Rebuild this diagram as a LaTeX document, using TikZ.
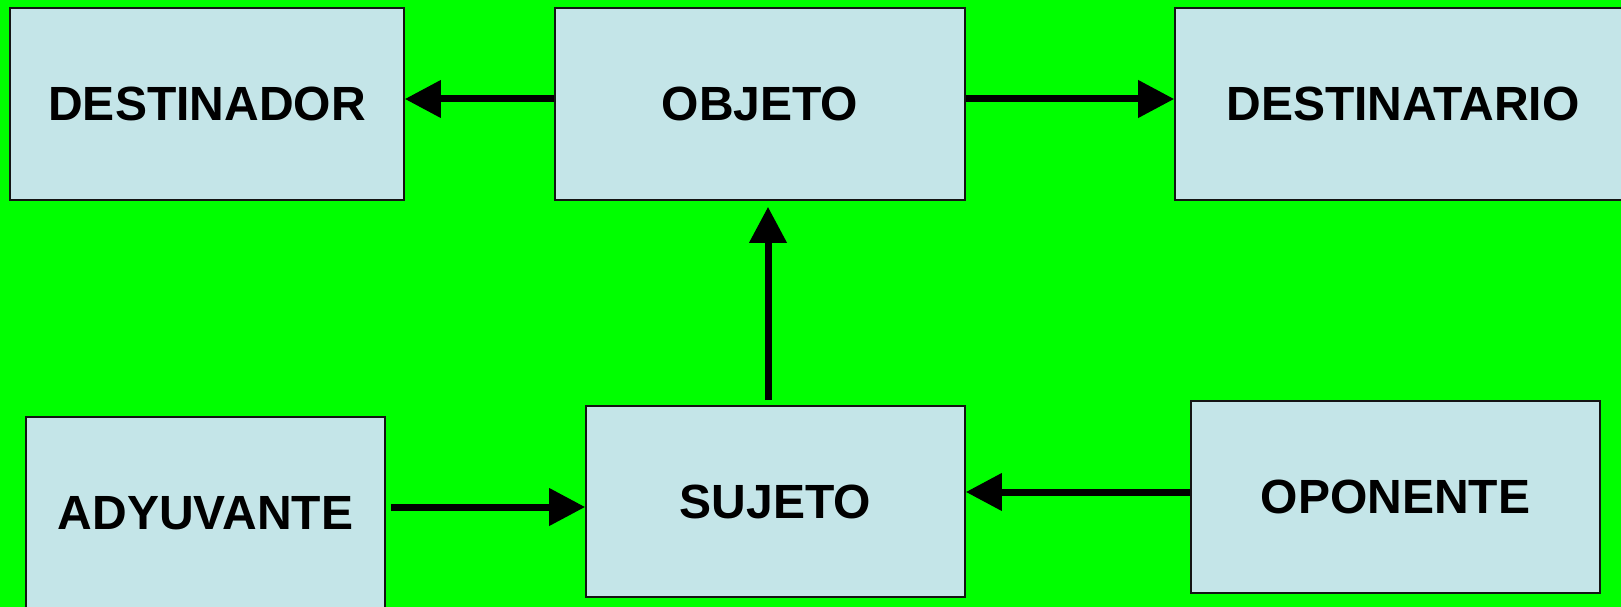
\documentclass[tikz,border=0pt]{standalone}
\usepackage{fontspec}
\setmainfont{Liberation Sans}
\usetikzlibrary{arrows.meta}
\definecolor{bggreen}{RGB}{0,255,0}
\definecolor{boxfill}{RGB}{196,229,232}
\definecolor{boxline}{RGB}{20,20,20}
\tikzset{
  actant/.style={draw=boxline, line width=1.6pt, fill=boxfill, rectangle,
    minimum height=192pt, inner sep=0pt,
    font=\fontsize{48}{58}\selectfont\bfseries, text depth=0pt},
  arr/.style={line width=7pt, black, -{Triangle[length=36pt,width=36pt]}}
}
\begin{document}
\begin{tikzpicture}[x=1pt,y=-1pt]
\fill[bggreen] (0,0) rectangle (1621,607);
\useasboundingbox (0,0) rectangle (1621,607);
\clip (0,0) rectangle (1621,607);
\node[actant, minimum width=394pt] (dor) at (207,104) {DESTINADOR};
\node[actant, minimum width=410pt] (obj) at (760,104) {OBJETO};
\node[actant, minimum width=456pt] (tar) at (1403,104) {DESTINATARIO};
\node[actant, minimum width=359pt] (ady) at (205.5,513) {ADYUVANTE};
\node[actant, minimum width=379pt, minimum height=191pt] (suj) at (775.5,501.5) {SUJETO};
\node[actant, minimum width=409pt] (opo) at (1395.5,497) {OPONENTE};
\draw[arr] ([yshift=5pt]obj.west) -- ([yshift=5pt]dor.east);
\draw[arr] ([yshift=5pt]obj.east) -- ([yshift=5pt]tar.west);
\draw[arr] ([xshift=-7.5pt,yshift=5pt]suj.north) -- ([xshift=8pt,yshift=-6pt]obj.south);
\draw[arr] ([xshift=5pt,yshift=6pt]ady.east) -- ([yshift=-5.5pt]suj.west);
\draw[arr] ([yshift=5pt]opo.west) -- ([yshift=9.5pt]suj.east);
\end{tikzpicture}
\end{document}
